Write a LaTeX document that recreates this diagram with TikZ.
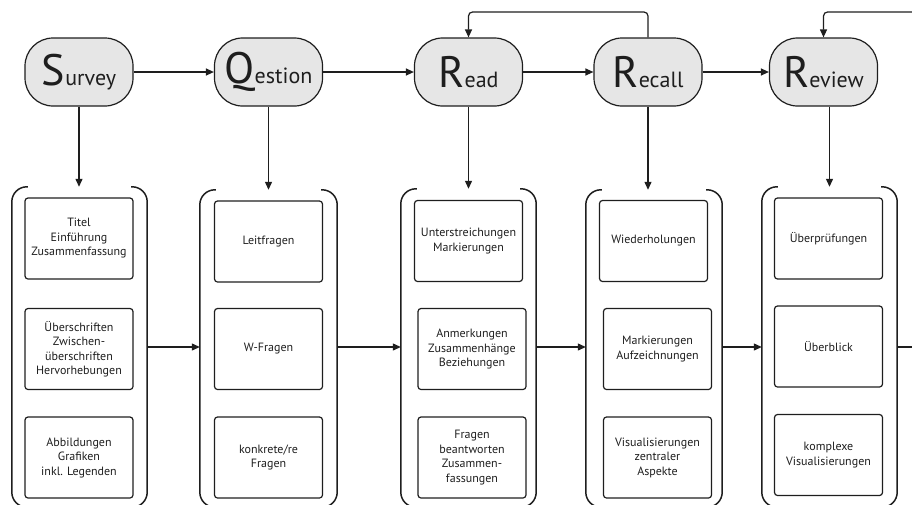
\documentclass[tikz,border=0pt]{standalone}
\usepackage{fontspec}
\setmainfont{PT Sans}
\usetikzlibrary{arrows.meta}
\definecolor{ink}{HTML}{1E1E1E}
\definecolor{titlefill}{HTML}{E6E6E6}
\newcommand{\hdword}[2]{{\fontsize{44}{44}\selectfont #1}{\fontsize{22}{22}\selectfont #2}}
\tikzset{
  titlebox/.style={draw=ink, line width=1.2pt, fill=titlefill, rounded corners=28pt,
    minimum width=108pt, minimum height=68pt, inner sep=0pt, text=ink},
  itembox/.style={draw=ink, line width=1.2pt, rounded corners=3pt,
    minimum width=108pt, minimum height=81pt, inner sep=0pt, align=center,
    font=\fontsize{12}{14.5}\selectfont, text=ink},
  grp/.style={draw=none, inner sep=0pt},
  brk/.style={draw=ink, line width=1.5pt, rounded corners=15pt},
  arr/.style={draw=ink, line width=1.2pt, -{Triangle[length=8pt,width=7pt]}},
  ln/.style={draw=ink, line width=1.2pt},
}
\begin{document}
\begin{tikzpicture}[x=1pt,y=-1pt]
\useasboundingbox (0,0) rectangle (912,504);
% title nodes
\node[titlebox] (S)  at (79,72)    {\hdword{S}{urvey}};
\node[titlebox] (Q)  at (268.5,72) {\hdword{Q}{estion}};
\node[titlebox] (R1) at (468.5,72) {\hdword{R}{ead}};
\node[titlebox] (R2) at (648,72)   {\hdword{R}{ecall}};
\node[titlebox] (R3) at (823.5,72) {\hdword{R}{eview}};
% groups
\node[grp, minimum width=135pt, minimum height=320pt] (gS)  at (79.5,347) {};
\node[grp, minimum width=137pt, minimum height=317pt] (gQ)  at (268.5,348.5) {};
\node[grp, minimum width=135pt, minimum height=318pt] (gR1) at (468.5,348) {};
\node[grp, minimum width=136pt, minimum height=317pt] (gR2) at (654,348.5) {};
\node[grp, minimum width=135pt, minimum height=320pt] (gR3) at (829.5,347) {};
\foreach \g in {gS,gQ,gR1,gR2,gR3}{
  \draw[brk] ([xshift=16pt]\g.north west) -- (\g.north west) -- (\g.south west) -- ([xshift=16pt]\g.south west);
  \draw[brk] ([xshift=-16pt]\g.north east) -- (\g.north east) -- (\g.south east) -- ([xshift=-16pt]\g.south east);
}
% items
\node[itembox] (s1) at (79,238.5) {Titel\\Einführung\\Zusammenfassung};
\node[itembox] (s2) at (79,349) {Überschriften\\Zwischen-\\überschriften\\Hervorhebungen};
\node[itembox] (s3) at (79,457.5) {Abbildungen\\Grafiken\\inkl. Legenden};
\node[itembox] (q1) at (268.5,241.5) {Leitfragen};
\node[itembox] (q2) at (268.5,349) {W-Fragen};
\node[itembox] (q3) at (268.5,457.5) {konkrete/re\\Fragen};
\node[itembox] (a1) at (468.5,241) {Unterstreichungen\\Markierungen};
\node[itembox] (a2) at (472,349) {Anmerkungen\\Zusammenhänge\\Beziehungen};
\node[itembox] (a3) at (472,457.5) {Fragen\\beantworten\\Zusammen-\\fassungen};
\node[itembox] (b1) at (653.5,241) {Wiederholungen};
\node[itembox] (b2) at (657.5,349) {Markierungen\\Aufzeichnungen};
\node[itembox] (b3) at (657.5,457.5) {Visualisierungen\\zentraler\\Aspekte};
\node[itembox] (c1) at (828.5,238.5) {Überprüfungen};
\node[itembox] (c2) at (828.5,346.5) {Überblick};
\node[itembox] (c3) at (828.5,455) {komplexe\\Visualisierungen};
% top arrows
\draw[arr] (S) -- (Q);
\draw[arr] (Q) -- (R1);
\draw[arr] (R1) -- (R2);
\draw[arr] (R2) -- (R3);
% down arrows
\draw[arr] (S.south) -- (S.south |- gS.north);
\draw[arr] (Q.south) -- (Q.south |- gQ.north);
\draw[arr] (R1.south) -- (R1.south |- gR1.north);
\draw[arr] (R2.south) -- (R2.south |- gR2.north);
\draw[arr] (gR3.north |- R3.south) -- (gR3.north);
% group arrows
\draw[arr] (gS.east) -- (gQ.west |- gS.east);
\draw[arr] (gQ.east |- gS.east) -- (gR1.west |- gS.east);
\draw[arr] (gR1.east |- gS.east) -- (gR2.west |- gS.east);
\draw[arr] (gR2.east |- gS.east) -- (gR3.west |- gS.east);
\coordinate (outR) at (912,347);
\draw[ln] (gR3.east) -- (outR);
% feedback loops
\coordinate (topR) at (912,12);
\draw[arr, rounded corners=4pt] (R2.north) -- (648,12) -- (468.5,12) -- (R1.north);
\draw[arr, rounded corners=4pt] (topR) -- (R3.north |- topR) -- (R3.north);
\end{tikzpicture}
\end{document}
